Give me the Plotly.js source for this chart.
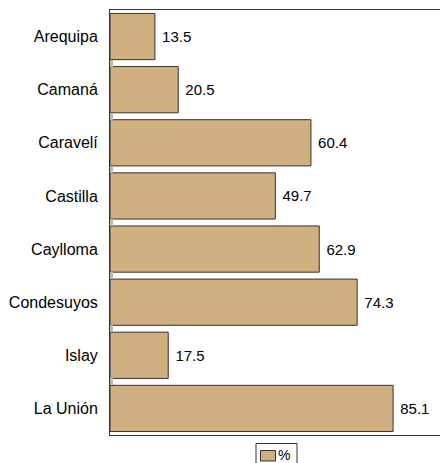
<!DOCTYPE html>
<html><head><meta charset="utf-8">
<script src="https://cdn.plot.ly/plotly-3.0.1.min.js"></script>
<style>html,body{margin:0;padding:0;background:#fff}</style>
</head><body>
<div id="chart" style="width:440px;height:463px"></div>
<script>
const categories = ["Arequipa","Camaná","Caravelí","Castilla","Caylloma","Condesuyos","Islay","La Unión"];
const values = [13.5, 20.5, 60.4, 49.7, 62.9, 74.3, 17.5, 85.1];
const seriesName = "%";
const barColor = "#D0AF80";

const FONT = "Liberation Sans, Arial, sans-serif";
const trace = {
  type: "bar", orientation: "h",
  y: categories, x: values, name: seriesName,
  texttemplate: "\u00a0%{x:.1f}",
  textposition: "outside", cliponaxis: false,
  textfont: {family: FONT, size: 15, color: "#000"},
  marker: {color: barColor, line: {color: "#333", width: 1}},
  showlegend: false
};
// paper-coordinate helpers for the legend box (plot: 110..440 px, 10..435 px)
const px = v => (v - 110) / 330;
const py = v => (435 - v) / 425;
const layout = {
  width: 440, height: 463,
  margin: {l: 110, r: 0, t: 10, b: 28},
  paper_bgcolor: "#fff", plot_bgcolor: "#fff",
  font: {family: FONT, size: 16, color: "#000"},
  bargap: 0.13,
  xaxis: {range: [0, 99.2], showgrid: false, zeroline: false, showticklabels: false,
          showline: true, mirror: true, linecolor: "#333", linewidth: 1, ticks: ""},
  yaxis: {autorange: "reversed", showgrid: false, zeroline: false,
          showline: true, linecolor: "#333", linewidth: 1,
          ticks: "inside", tickson: "boundaries", ticklen: 3, tickwidth: 7, tickcolor: "#b8b8b8",
          ticklabelstandoff: 8, tickfont: {size: 16}},
  showlegend: false,
  shapes: [
    {type: "rect", xref: "paper", yref: "paper", x0: px(256), x1: px(297), y0: py(443.5), y1: py(470),
     line: {color: "#333", width: 1}, fillcolor: "#fff"},
    {type: "rect", xref: "paper", yref: "paper", x0: px(260.5), x1: px(275.5), y0: py(450.5), y1: py(461),
     line: {color: "#333", width: 1}, fillcolor: barColor}
  ],
  annotations: [
    {xref: "paper", yref: "paper", x: px(276.5), y: py(454.5), xanchor: "left", yanchor: "middle",
     text: seriesName, showarrow: false, borderpad: 0, font: {family: FONT, size: 14, color: "#000"}}
  ]
};
Plotly.newPlot("chart", [trace], layout, {displayModeBar: false, staticPlot: true});
</script>
</body></html>
